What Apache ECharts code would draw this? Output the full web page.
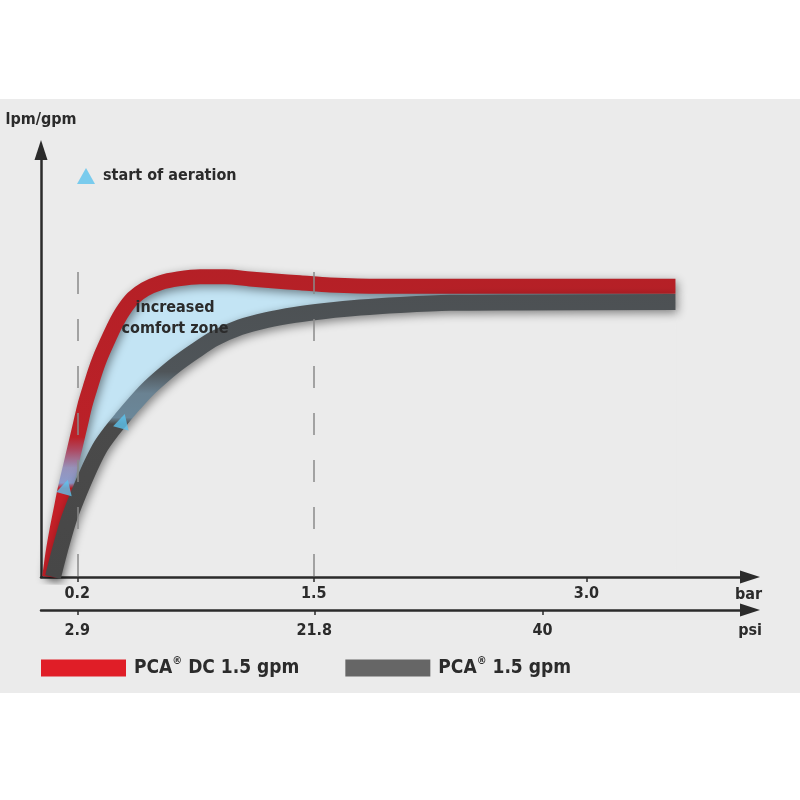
<!DOCTYPE html>
<html>
<head>
<meta charset="utf-8">
<script src="https://cdn.jsdelivr.net/npm/echarts@6/dist/echarts.min.js"></script>
<style>
  html, body { margin: 0; padding: 0; background: #fff; }
  #chart {
    width: 800px;
    height: 800px;
    background: linear-gradient(#fff 0, #fff 99px, #ebebeb 99px, #ebebeb 693px, #fff 693px);
  }
</style>
</head>
<body>
<div id="chart"></div>
<script>
// pressure axes (bar on top, psi below)
const barTicks = [0.2, 1.5, 3.0];
const psiTicks = [2.9, 21.8, 40];
const barMax = 3.9;
const psiPerBar = 14.5;

// PCA DC 1.5 gpm (red)
const dcX = [0.048, 0.066, 0.088, 0.110, 0.132, 0.160, 0.187, 0.215, 0.242, 0.270, 0.297, 0.325, 0.363, 0.407,
  0.451, 0.506, 0.572, 0.655, 0.754, 0.875, 1.012, 1.15, 1.287, 1.425, 1.59, 1.865, 2.525, 3.49];
const dcY = [0, 0.56, 1.10, 1.57, 2.04, 2.55, 3.04, 3.54, 4.03, 4.43, 4.80, 5.13, 5.50, 5.90,
  6.23, 6.53, 6.74, 6.89, 6.98, 7.03, 7.03, 6.98, 6.93, 6.89, 6.84, 6.81, 6.81, 6.81];

// PCA 1.5 gpm (grey)
const stdX = [0.066, 0.094, 0.121, 0.154, 0.193, 0.237, 0.281, 0.330, 0.385, 0.446, 0.512, 0.583, 0.660,
  0.748, 0.847, 0.957, 1.095, 1.243, 1.397, 1.562, 1.755, 1.975, 2.25, 2.635, 3.49];
const stdY = [0, 0.47, 0.89, 1.36, 1.80, 2.25, 2.67, 3.07, 3.40, 3.72, 4.05, 4.38, 4.68,
  4.99, 5.29, 5.59, 5.85, 6.02, 6.14, 6.23, 6.31, 6.37, 6.42, 6.43, 6.44];

// start of aeration markers
const aerationX = [0.137, 0.45];
const aerationY = [2.11, 3.65];

// dashed guides
const guideX = [0.2, 1.5];
const guideTop = 7.14;

const dcName = 'PCA® DC 1.5 gpm';
const stdName = 'PCA® 1.5 gpm';
const aerationName = 'start of aeration';

const bg = '#ebebeb';
const ink = '#2b2b2b';
const zoneBlue = '#c3e4f4';
const font = '"Liberation Sans Narrow", "DejaVu Sans Condensed", sans-serif';

const dcData = dcX.map((x, i) => [x, dcY[i]]);
const stdData = stdX.map((x, i) => [x, stdY[i]]);
const aerationData = aerationX.map((x, i) => [x, aerationY[i]]);

const chart = echarts.init(document.getElementById('chart'));

const redStroke = new echarts.graphic.LinearGradient(0, 577, 0, 140, [
  { offset: 0, color: '#c41f27' },
  { offset: 0.203, color: '#c41f27' },
  { offset: 0.215, color: '#8b9ccc' },
  { offset: 0.25, color: '#9792ba' },
  { offset: 0.29, color: '#ad4a63' },
  { offset: 0.32, color: '#bb2128' },
  { offset: 1, color: '#b01f25' }
], true);

const greyStroke = new echarts.graphic.LinearGradient(0, 577, 0, 140, [
  { offset: 0, color: '#474747' },
  { offset: 0.35, color: '#4a4a4a' },
  { offset: 0.365, color: '#6a8799' },
  { offset: 0.42, color: '#6a8292' },
  { offset: 0.47, color: '#4f5559' },
  { offset: 1, color: '#474747' }
], true);

// comfort zone fill fades out where the two curves merge
const zoneFill = new echarts.graphic.LinearGradient(600, 0, 676, 0, [
  { offset: 0, color: zoneBlue },
  { offset: 0.5, color: zoneBlue },
  { offset: 0.7, color: bg },
  { offset: 1, color: bg }
], true);

const axisLine = {
  show: true,
  symbol: ['none', 'triangle'],
  symbolSize: [13, 20],
  lineStyle: { color: ink, width: 2.5 }
};

const tickText = { color: ink, fontFamily: font, fontWeight: 'bold', fontSize: 16 };

const curveSmooth = 0.3;

chart.setOption({
  animation: false,
  grid: { left: 41, right: 50, top: 150, bottom: 223 },
  xAxis: [
    {
      type: 'value',
      min: 0,
      max: barMax,
      z: 3,
      axisLine: axisLine,
      axisTick: { show: true, customValues: barTicks, length: 5, lineStyle: { color: ink, width: 1.5 } },
      axisLabel: { customValues: barTicks, margin: 9, formatter: (v) => v.toFixed(1), ...tickText },
      splitLine: { show: false },
      name: 'bar',
      nameLocation: 'end',
      nameGap: 12,
      nameTextStyle: { ...tickText, align: 'right', verticalAlign: 'top', padding: [10, 0, 0, 0] }
    },
    {
      type: 'value',
      position: 'bottom',
      offset: 33,
      min: 0,
      max: barMax * psiPerBar,
      z: 3,
      axisLine: axisLine,
      axisTick: { show: true, customValues: psiTicks, length: 5, lineStyle: { color: ink, width: 1.5 } },
      axisLabel: { customValues: psiTicks, margin: 13, formatter: (v) => String(v), ...tickText },
      splitLine: { show: false },
      name: 'psi',
      nameLocation: 'end',
      nameGap: 12,
      nameTextStyle: { ...tickText, align: 'right', verticalAlign: 'top', padding: [13, 0, 0, 0] }
    }
  ],
  yAxis: {
    type: 'value',
    min: 0,
    max: 10,
    z: 3,
    axisLine: axisLine,
    axisTick: { show: false },
    axisLabel: { show: false },
    splitLine: { show: false },
    name: 'lpm/gpm',
    nameLocation: 'end',
    nameGap: 22,
    nameTextStyle: { ...tickText, fontSize: 16 }
  },
  legend: [
    {
      data: [aerationName],
      left: 77,
      top: 168,
      padding: 0,
      icon: 'triangle',
      itemWidth: 18,
      itemHeight: 16,
      symbolRotate: 0,
      selectedMode: false,
      textStyle: { color: ink, fontFamily: font, fontWeight: 'bold', fontSize: 16, padding: [0, 0, 0, 3] }
    },
    {
      data: [
        { name: dcName, itemStyle: { color: '#e01e27' } },
        { name: stdName, itemStyle: { color: '#666666' } }
      ],
      left: 41,
      top: 656,
      padding: 0,
      icon: 'rect',
      itemWidth: 85,
      itemHeight: 17,
      itemGap: 46,
      selectedMode: false,
      formatter: (name) => '{a|' + name.replace('®', '}{s|®}{a|') + '}',
      textStyle: {
        color: ink,
        padding: [0, 0, 0, 3],
        rich: {
          a: { color: ink, fontFamily: font, fontWeight: 'bold', fontSize: 19, lineHeight: 24 },
          s: { color: ink, fontFamily: font, fontWeight: 'bold', fontSize: 11, lineHeight: 15, verticalAlign: 'top' }
        }
      }
    }
  ],
  graphic: [
    {
      type: 'text',
      x: 175,
      y: 297,
      z: 10,
      style: {
        text: 'increased\ncomfort zone',
        align: 'center',
        fill: ink,
        font: 'bold 16px ' + font,
        lineHeight: 21
      }
    }
  ],
  series: [
    {
      type: 'line',
      data: dcData,
      smooth: curveSmooth,
      symbol: 'none',
      silent: true,
      z: 1,
      lineStyle: { width: 0 },
      areaStyle: { color: zoneFill, opacity: 1 }
    },
    {
      type: 'line',
      data: stdData,
      smooth: curveSmooth,
      symbol: 'none',
      silent: true,
      z: 2,
      lineStyle: { width: 0 },
      areaStyle: { color: bg, opacity: 1, shadowBlur: 3, shadowColor: bg }
    },
    {
      name: dcName,
      type: 'line',
      data: dcData,
      smooth: curveSmooth,
      symbol: 'none',
      z: 4,
      itemStyle: { color: '#c41f27' },
      lineStyle: {
        width: 15,
        color: redStroke,
        cap: 'butt',
        join: 'round',
        shadowBlur: 10,
        shadowColor: 'rgba(0,0,0,0.45)',
        shadowOffsetX: 2,
        shadowOffsetY: 3
      }
    },
    {
      name: stdName,
      type: 'line',
      data: stdData,
      smooth: curveSmooth,
      symbol: 'none',
      z: 4,
      itemStyle: { color: '#4a4a4a' },
      lineStyle: {
        width: 16,
        color: greyStroke,
        cap: 'butt',
        join: 'round',
        shadowBlur: 10,
        shadowColor: 'rgba(0,0,0,0.45)',
        shadowOffsetX: 2,
        shadowOffsetY: 3
      },
      markLine: {
        silent: true,
        symbol: ['none', 'none'],
        label: { show: false },
        lineStyle: { color: '#8a8a8a', width: 1.5, type: [22, 25] },
        data: guideX.map((x) => [{ coord: [x, guideTop] }, { coord: [x, 0] }])
      }
    },
    {
      name: aerationName,
      type: 'scatter',
      data: aerationData,
      symbol: 'triangle',
      symbolSize: [16, 15],
      symbolRotate: -15,
      z: 6,
      itemStyle: { color: '#5cc3ee' }
    }
  ]
});
</script>
</body>
</html>
